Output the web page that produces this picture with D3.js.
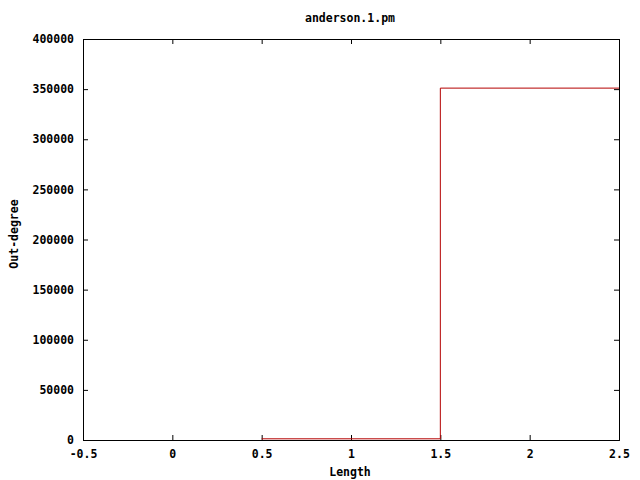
<!DOCTYPE html>
<html>
<head>
<meta charset="utf-8">
<script src="https://cdn.jsdelivr.net/npm/d3@7"></script>
<style>
body { margin: 0; background: #fff; }
text { font-family: "DejaVu Sans Mono", monospace; font-weight: bold; font-size: 11.5px; fill: #000; }
</style>
</head>
<body>
<div id="chart"></div>
<script>
var title = 'anderson.1.pm';
var xLabel = 'Length';
var yLabel = 'Out-degree';
var lengths = [1, 2];
var outDegree = [1200, 351000];
var xTicks = [-0.5, 0, 0.5, 1, 1.5, 2, 2.5];
var yTicks = [0, 50000, 100000, 150000, 200000, 250000, 300000, 350000, 400000];

var margin = { top: 39, right: 21, bottom: 40, left: 83 },
    width = 640 - margin.left - margin.right,
    height = 480 - margin.top - margin.bottom;

var svg = d3.select('#chart')
    .append('svg')
    .attr('width', 640)
    .attr('height', 480);

var g = svg.append('g')
    .attr('transform', 'translate(' + margin.left + ',' + margin.top + ')');

var x = d3.scaleLinear().domain([-0.5, 2.5]).range([0, width]);
var y = d3.scaleLinear().domain([0, 400000]).range([height, 0]);

// gnuplot style: ticks inside, mirrored on all sides
g.append('g')
    .attr('transform', 'translate(0,' + height + ')')
    .call(d3.axisBottom(x).tickValues(xTicks).tickSize(-5).tickPadding(10)
        .tickFormat(function(d) { return d; }));
g.append('g')
    .call(d3.axisTop(x).tickValues(xTicks).tickSize(-5).tickFormat(''));
g.append('g')
    .call(d3.axisLeft(y).tickValues(yTicks).tickSize(-5).tickPadding(9)
        .tickFormat(function(d) { return d; }));
g.append('g')
    .attr('transform', 'translate(' + width + ',0)')
    .call(d3.axisRight(y).tickValues(yTicks).tickSize(-5).tickFormat(''));

g.selectAll('.domain').attr('stroke', '#000').attr('stroke-width', 1);
g.selectAll('.tick line').attr('stroke', '#000');
g.selectAll('.tick text').style('font-size', '11.5px');

// histeps: each bin spans +/- 0.5 around its length
var steps = lengths.map(function(l, i) { return { x: l - 0.5, v: outDegree[i] }; });
steps.push({ x: lengths[lengths.length - 1] + 0.5, v: outDegree[outDegree.length - 1] });

var line = d3.line()
    .x(function(d) { return x(d.x); })
    .y(function(d) { return y(d.v); })
    .curve(d3.curveStepAfter);

g.append('path')
    .datum(steps)
    .attr('d', line)
    .attr('fill', 'none')
    .attr('stroke', '#b40000')
    .attr('stroke-width', 1);

svg.append('text')
    .attr('x', 350).attr('y', 22)
    .attr('text-anchor', 'middle')
    .text(title);

svg.append('text')
    .attr('x', 350).attr('y', 476)
    .attr('text-anchor', 'middle')
    .text(xLabel);

svg.append('text')
    .attr('transform', 'translate(18,234) rotate(-90)')
    .attr('text-anchor', 'middle')
    .text(yLabel);
</script>
</body>
</html>
